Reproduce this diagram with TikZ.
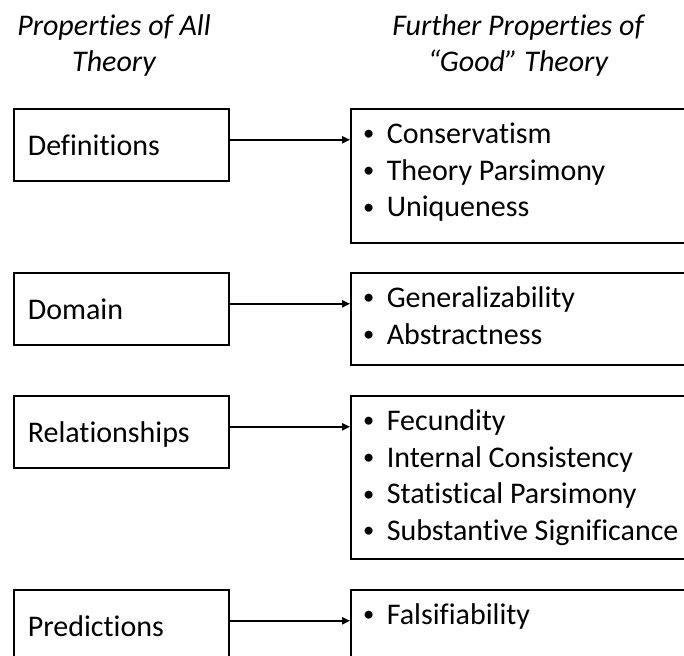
\documentclass[tikz,border=0pt]{standalone}
\usepackage{fontspec}
\setmainfont{Carlito}[Ligatures={NoCommon,NoRequired,NoContextual}]
\usetikzlibrary{arrows.meta}

\newcommand{\pitem}[1]{\strut\makebox[18pt][c]{\raisebox{0.09em}{\scalebox{0.75}{\textbullet}}}#1\par}
\newcommand{\goodlist}[2]{\parbox[c][#1][t]{168pt}{\vspace*{4.6pt}#2}}

\begin{document}
\begin{tikzpicture}[
    x=0.5pt, y=-0.5pt,
    every node/.style={font=\fontsize{15}{18.3}\selectfont},
    title/.style={align=center,font=\fontsize{15}{18}\selectfont\itshape},
    prop/.style={draw,line width=0.8pt,anchor=north west,text width=93.5pt,inner xsep=7pt,
        minimum height=36pt,text height=10.5pt,text depth=0pt,align=left},
    goodbox/.style={draw,line width=0.8pt,anchor=north west,inner sep=0pt},
    arr/.style={line width=0.8pt,-{Triangle[length=4pt,width=3.6pt]}}
]
    \useasboundingbox (0,0) rectangle (684,656);

    % Column headings
    \node[title] (alltitle) at (114,46) {Properties of All\\Theory};
    \node[title] (goodtitle) at (518,46) {Further Properties of\\“Good” Theory};

    %%%%%%%%%%%%%%%%%%%%%%%%%%%%%%%%%%%%%%%%%%%%%%%%%%%%%%%%%%%%%%%%%%%%%%%%%%%%%%%%%%%%

    % Properties of all theory
    \node[prop] (def) at (13,108) {Definitions};
    \node[prop] (dom) at (13,272) {Domain};
    \node[prop] (rel) at (13,395) {Relationships};
    \node[prop] (pred) at (13,589) {Predictions};

    % Further properties of good theory
    \node[goodbox] (defp) at (350,108) {\goodlist{67pt}{%
        \pitem{Conservatism}\pitem{Theory Parsimony}\pitem{Uniqueness}}};
    \node[goodbox] (domp) at (350,272) {\goodlist{46pt}{%
        \pitem{Generalizability}\pitem{Abstractness}}};
    \node[goodbox] (relp) at (350,395) {\goodlist{81.5pt}{%
        \pitem{Fecundity}\pitem{Internal Consistency}\pitem{Statistical Parsimony}\pitem{Substantive Significance}}};
    \node[goodbox] (predp) at (350,589) {\goodlist{46pt}{%
        \pitem{Falsifiability}}};

    \foreach \a/\b in {def/defp, dom/domp, rel/relp, pred/predp} {
        \draw[arr] ([yshift=2.5pt]\a.east) -- ([yshift=2.5pt]\a.east -| \b.west);
    }
\end{tikzpicture}
\end{document}
